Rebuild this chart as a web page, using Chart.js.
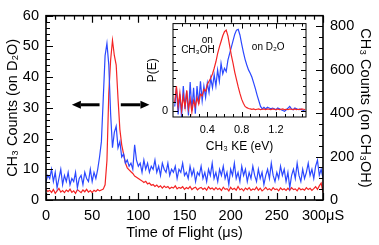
<!DOCTYPE html>
<html>
<head>
<meta charset="utf-8">
<script src="https://cdn.jsdelivr.net/npm/chart.js@4.4.0/dist/chart.umd.min.js"></script>
<style>
  html, body { margin: 0; padding: 0; background: #fff; }
  #wrap { position: relative; width: 379px; height: 245px; }
  #main { position: absolute; left: 0; top: 0; }
  #inset { position: absolute; left: 130px; top: 12px; }
</style>
</head>
<body>
<div id="wrap">
  <canvas id="main" width="379" height="245"></canvas>
  <canvas id="inset" width="190" height="150"></canvas>
</div>
<script>
// time of flight grid (us)
const tofStart = 0;
const tofStep = 2;
// CH3 counts on D2O (left axis)
const d2oCounts = [
  6, 8, 7, 10, 6, 9, 4, 7, 10, 5,
  8, 6, 9, 5, 7, 6, 9, 4, 7, 8,
  5, 9, 7, 6, 10, 6, 9, 7, 10, 14,
  19, 33, 47, 51, 44, 28, 17, 22, 24, 17,
  19, 14, 15, 12, 13, 11, 12, 10, 18, 13,
  11, 12, 9, 13, 10, 12, 9, 11, 10, 13,
  9, 11, 8, 12, 10, 9, 12, 8, 10, 9,
  11, 7, 10, 9, 12, 8, 9, 7, 11, 8,
  10, 6, 9, 8, 11, 7, 9, 6, 10, 8,
  12, 7, 9, 6, 10, 8, 11, 7, 9, 5,
  10, 8, 12, 7, 9, 6, 11, 8, 10, 6,
  9, 7, 11, 8, 6, 10, 7, 9, 5, 8,
  10, 7, 12, 8, 6, 9, 7, 11, 8, 10,
  6, 9, 4, 8, 10, 7, 12, 8, 6, 10,
  7, 9, 12, 8, 10, 7, 11, 13, 8, 10,
  7
];
// CH3 counts on CH3OH (right axis)
const ch3ohCounts = [
  49, 39, 45, 35, 48, 31, 42, 53, 36, 43,
  34, 46, 39, 50, 35, 42, 31, 48, 41, 34,
  46, 38, 49, 36, 43, 34, 45, 39, 48, 42,
  46, 50, 70, 182, 490, 644, 735, 665, 622, 467,
  325, 254, 212, 170, 148, 139, 130, 122, 110, 105,
  99, 93, 88, 81, 86, 74, 78, 68, 71, 62,
  69, 59, 65, 55, 64, 57, 62, 52, 59, 55,
  65, 51, 58, 54, 61, 49, 57, 52, 62, 48,
  55, 59, 47, 54, 58, 49, 55, 45, 61, 51,
  55, 47, 57, 48, 54, 44, 59, 49, 52, 42,
  58, 48, 54, 45, 62, 47, 52, 42, 55, 48,
  57, 44, 51, 47, 59, 45, 54, 42, 49, 58,
  47, 52, 44, 57, 48, 51, 42, 55, 47, 52,
  44, 54, 45, 57, 48, 51, 42, 55, 47, 51,
  45, 57, 48, 54, 44, 52, 61, 49, 65, 78,
  35
];
const xTicks = [0, 50, 100, 150, 200, 250, 300];
const leftTicks = [0, 10, 20, 30, 40, 50, 60];
const rightTicks = [0, 200, 400, 600, 800];

// inset: kinetic energy grid (eV) and P(E)
const keStart = 0.02;
const keStep = 0.02;
const pD2O = [
  0.05, 0.28, -0.05, 0.20, -0.08, 0.30, 0.02, 0.24, -0.06, 0.35,
  0.00, 0.28, -0.04, 0.30, 0.08, 0.36, 0.12, 0.30, 0.16, 0.34,
  0.22, 0.40, 0.28, 0.44, 0.30, 0.50, 0.36, 0.58, 0.45, 0.52,
  0.48, 0.62, 0.70, 0.78, 0.86, 0.94, 0.99, 1.00, 0.93, 0.82,
  0.72, 0.63, 0.56, 0.50, 0.46, 0.41, 0.34, 0.27, 0.19, 0.12,
  0.05, 0.02, 0.04, 0.02, 0.04, 0.03, 0.02, 0.03, 0.02, 0.01,
  0.03, 0.02, 0.01, 0.00, -0.01, 0.01, 0.03, 0.05, 0.02, 0.01,
  0.03, 0.02, 0.01, 0.02, 0.01, 0.00, -0.01
];
const pCH3OH = [
  0.10, 0.30, 0.05, 0.22, 0.00, 0.18, 0.04, 0.25, 0.02, 0.14,
  -0.02, 0.12, 0.05, 0.16, 0.08, 0.20, 0.18, 0.26, 0.24, 0.32,
  0.36, 0.40, 0.45, 0.52, 0.60, 0.70, 0.78, 0.85, 0.92, 0.97,
  0.99, 0.92, 0.80, 0.68, 0.58, 0.47, 0.38, 0.29, 0.21, 0.14,
  0.09, 0.05, 0.035, 0.025, 0.02, 0.015, 0.02, 0.01, 0.015, 0.02,
  0.01, 0.015, 0.02, 0.01, 0.02, 0.015, 0.01, 0.02, 0.015, 0.01,
  0.02, 0.01, 0.015, 0.02, 0.01, 0.015, 0.01, 0.02, 0.015, 0.01,
  0.02, 0.01, 0.015, 0.01, 0.02, 0.015, 0.01
];
const insetXTicks = [0.4, 0.8, 1.2];

const FONT = "'Liberation Sans', Arial, sans-serif";
const BLUE = '#2b48ff';
const RED = '#f42424';
Chart.defaults.font.family = FONT;
Chart.defaults.color = '#000';

function steps(from, to, step) {
  const out = [];
  for (let v = from; v <= to + 1e-9; v += step) out.push(+v.toFixed(3));
  return out;
}

function toPoints(values, start, step) {
  return values.map((v, i) => ({ x: +(start + i * step).toFixed(3), y: v }));
}

// frame around the plot area with inward tick marks
function frameTicks(cfg) {
  return {
    id: 'frameTicks',
    beforeDraw(chart) {
      if (!cfg.fill) return;
      const { ctx, chartArea: a } = chart;
      ctx.save();
      ctx.fillStyle = cfg.fill;
      ctx.fillRect(a.left, a.top, a.right - a.left, a.bottom - a.top);
      ctx.restore();
    },
    afterDatasetsDraw(chart) {
      const { ctx, chartArea: a } = chart;
      ctx.save();
      ctx.strokeStyle = '#000';
      ctx.lineWidth = cfg.tickWidth;
      ctx.beginPath();
      cfg.marks.forEach(m => {
        const s = chart.scales[m.scale];
        m.values.forEach(v => {
          const p = Math.round(s.getPixelForValue(v)) + 0.5;
          m.edges.forEach(edge => {
            if (edge === 'bottom') { ctx.moveTo(p, a.bottom); ctx.lineTo(p, a.bottom - m.len); }
            if (edge === 'top') { ctx.moveTo(p, a.top); ctx.lineTo(p, a.top + m.len); }
            if (edge === 'left') { ctx.moveTo(a.left, p); ctx.lineTo(a.left + m.len, p); }
            if (edge === 'right') { ctx.moveTo(a.right, p); ctx.lineTo(a.right - m.len, p); }
          });
        });
      });
      ctx.stroke();
      ctx.lineWidth = cfg.frameWidth;
      ctx.strokeRect(a.left, a.top, a.right - a.left, a.bottom - a.top);
      if (cfg.after) cfg.after(chart, ctx);
      ctx.restore();
    }
  };
}

function drawArrow(ctx, x0, x1, y) {
  const dir = Math.sign(x1 - x0);
  const head = 9;
  ctx.lineWidth = 3;
  ctx.beginPath();
  ctx.moveTo(x0, y);
  ctx.lineTo(x1 - dir * head, y);
  ctx.stroke();
  ctx.beginPath();
  ctx.moveTo(x1, y);
  ctx.lineTo(x1 - dir * head, y - 4);
  ctx.lineTo(x1 - dir * head, y + 4);
  ctx.closePath();
  ctx.fill();
}

const tickFont = { family: FONT, size: 14.5 };
const titleFont = { family: FONT, size: 14.5 };
const noGrid = { display: false, drawTicks: false };

new Chart(document.getElementById('main'), {
  type: 'line',
  data: {
    datasets: [
      {
        data: toPoints(d2oCounts, tofStart, tofStep),
        yAxisID: 'y',
        borderColor: BLUE,
        borderWidth: 1.2,
        pointRadius: 0,
      },
      {
        data: toPoints(ch3ohCounts, tofStart, tofStep),
        yAxisID: 'y1',
        borderColor: RED,
        borderWidth: 1.2,
        pointRadius: 0,
      }
    ]
  },
  options: {
    responsive: false,
    animation: false,
    layout: { padding: { top: 7, left: 0, right: 0, bottom: 0 } },
    plugins: { legend: { display: false }, tooltip: { enabled: false } },
    scales: {
      x: {
        type: 'linear', min: 0, max: 300,
        grid: noGrid, border: { display: false },
        afterBuildTicks: s => { s.ticks = xTicks.map(v => ({ value: v })); },
        afterFit: s => { s.height = 45; },
        ticks: {
          padding: 7, font: tickFont, maxRotation: 0, autoSkip: false,
          callback: v => (v === 300 ? '300\u03bcS' : String(v))
        },
        title: { display: true, text: 'Time of Flight (\u03bcs)', font: titleFont, padding: { top: 0, bottom: 3 } }
      },
      y: {
        type: 'linear', position: 'left', min: 0, max: 60,
        grid: noGrid, border: { display: false },
        afterBuildTicks: s => { s.ticks = leftTicks.map(v => ({ value: v })); },
        afterFit: s => { s.width = 46; },
        ticks: { padding: 7, font: tickFont, autoSkip: false },
        title: { display: true, text: 'CH\u2083 Counts (on D\u2082O)', font: titleFont, padding: { top: 4, bottom: 0 } }
      },
      y1: {
        type: 'linear', position: 'right', min: 0, max: 848,
        grid: noGrid, border: { display: false },
        afterBuildTicks: s => { s.ticks = rightTicks.map(v => ({ value: v })); },
        afterFit: s => { s.width = 56; },
        ticks: { padding: 7, font: tickFont, autoSkip: false },
        title: { display: true, text: 'CH\u2083 Counts (on CH\u2083OH)', font: titleFont, padding: { top: 5, bottom: 0 } }
      }
    }
  },
  plugins: [frameTicks({
    frameWidth: 1.6,
    tickWidth: 1.2,
    marks: [
      { scale: 'x', values: steps(0, 300, 10), len: 4, edges: ['bottom', 'top'] },
      { scale: 'x', values: xTicks, len: 7, edges: ['bottom', 'top'] },
      { scale: 'y', values: steps(0, 60, 2), len: 4, edges: ['left'] },
      { scale: 'y', values: leftTicks, len: 7, edges: ['left'] },
      { scale: 'y1', values: steps(0, 800, 50), len: 4, edges: ['right'] },
      { scale: 'y1', values: rightTicks, len: 7, edges: ['right'] }
    ],
    after(chart, ctx) {
      // direction arrows either side of the peaks
      const x = chart.scales.x, y = chart.scales.y;
      ctx.fillStyle = '#000';
      ctx.strokeStyle = '#000';
      const yy = y.getPixelForValue(31);
      drawArrow(ctx, x.getPixelForValue(58), x.getPixelForValue(28), yy);
      drawArrow(ctx, x.getPixelForValue(81), x.getPixelForValue(112), yy);
    }
  })]
});

const smallTick = { family: FONT, size: 11 };
const smallTitle = { family: FONT, size: 12 };

new Chart(document.getElementById('inset'), {
  type: 'line',
  data: {
    datasets: [
      {
        data: toPoints(pCH3OH, keStart, keStep),
        borderColor: RED,
        borderWidth: 1.2,
        pointRadius: 0,
      },
      {
        data: toPoints(pD2O, keStart, keStep),
        borderColor: BLUE,
        borderWidth: 1.2,
        pointRadius: 0,
      }
    ]
  },
  options: {
    responsive: false,
    animation: false,
    layout: { padding: { top: 7, left: 0, right: 14, bottom: 0 } },
    plugins: { legend: { display: false }, tooltip: { enabled: false } },
    scales: {
      x: {
        type: 'linear', min: 0, max: 1.55,
        grid: noGrid, border: { display: false },
        afterBuildTicks: s => { s.ticks = insetXTicks.map(v => ({ value: v })); },
        afterFit: s => { s.height = 45; },
        ticks: { padding: 6, font: smallTick, maxRotation: 0, autoSkip: false, callback: v => v.toFixed(1) },
        title: { display: true, text: 'CH\u2083 KE (eV)', font: smallTitle, padding: { top: 0, bottom: 8 } }
      },
      y: {
        type: 'linear', min: -0.08, max: 1.07,
        grid: noGrid, border: { display: false },
        afterBuildTicks: s => { s.ticks = [{ value: 0 }]; },
        afterFit: s => { s.width = 43; },
        ticks: { padding: 5, font: smallTick, autoSkip: false },
        title: { display: true, text: 'P(E)', font: smallTitle, padding: { top: 15, bottom: 0 } }
      }
    }
  },
  plugins: [frameTicks({
    fill: '#fff',
    frameWidth: 1,
    tickWidth: 1,
    marks: [
      { scale: 'x', values: steps(0.1, 1.5, 0.1), len: 3, edges: ['bottom', 'top'] },
      { scale: 'x', values: insetXTicks, len: 5, edges: ['bottom', 'top'] },
      { scale: 'y', values: steps(0, 1, 0.1), len: 3, edges: ['left', 'right'] },
      { scale: 'y', values: [0, 0.5, 1], len: 5, edges: ['left', 'right'] }
    ],
    after(chart, ctx) {
      const x = chart.scales.x, y = chart.scales.y;
      ctx.fillStyle = '#000';
      ctx.font = '10px ' + FONT;
      ctx.textAlign = 'center';
      ctx.textBaseline = 'middle';
      ctx.fillText('on', x.getPixelForValue(0.40), y.getPixelForValue(0.86));
      ctx.fillText('CH\u2083OH', x.getPixelForValue(0.29), y.getPixelForValue(0.74));
      ctx.fillText('on D\u2082O', x.getPixelForValue(1.11), y.getPixelForValue(0.78));
    }
  })]
});
</script>
</body>
</html>
